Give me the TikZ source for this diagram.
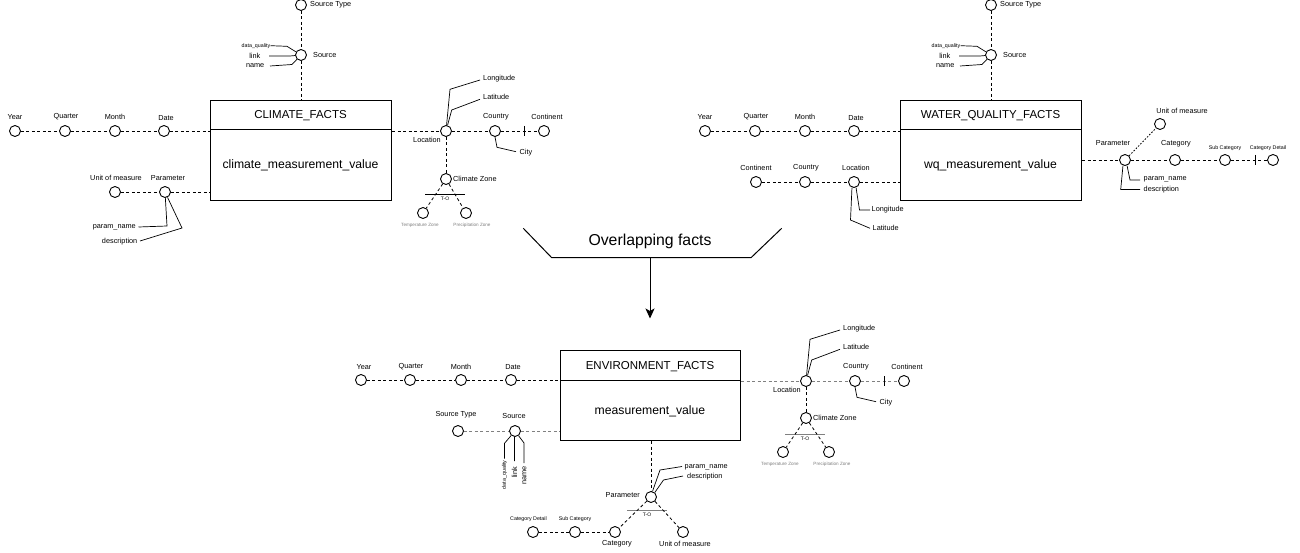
\documentclass[tikz,border=0pt]{standalone}
\usepackage{fontspec}
\setmainfont{Liberation Sans}
\usetikzlibrary{arrows.meta}
\newcommand\myfs[1]{\fontsize{#1}{#1}\selectfont}
\begin{document}
\begin{tikzpicture}[x=1pt,y=-1pt,
 ent/.style={circle,draw,line width=0.9pt,minimum size=11pt,inner sep=0pt,fill=white},
 lbl/.style={inner sep=0pt,font=\myfs{7.3}},
 tny/.style={inner sep=0pt,font=\myfs{5.3}},
 zn/.style={inner sep=0pt,font=\myfs{4.6},text=gray},
 dl/.style={line width=0.8pt,dash pattern=on 3pt off 2.5pt},
 gdl/.style={dl,draw=gray},
 dotl/.style={line width=0.8pt,dash pattern=on 1.6pt off 1.6pt},
 att/.style={line width=0.7pt},
 fact/.style={draw,line width=1pt,anchor=north west,minimum width=181pt,minimum height=100pt,inner sep=0pt},
 ttl/.style={inner sep=0pt,font=\myfs{11.5}},
 val/.style={inner sep=0pt,font=\myfs{12.2}},
 tob/.style={line width=0.9pt},
 tot/.style={inner sep=0pt,font=\myfs{5}}]
\useasboundingbox (0,0) rectangle (1300,553);
\fill[white] (0,0) rectangle (1300,553);

% ================= CLIMATE =================
\node[fact] (cf) at (210,100) {};
\draw[line width=1pt] (cf.west |- 0,130) -- (cf.east |- 0,130);
\node[ttl] (cft) at (300.5,115.5) {CLIMATE\_FACTS};
\node[val] (cfv) at (300.5,165) {climate\_measurement\_value};

\node[ent] (ay) at (15,131) {};   \node[lbl] (ayl) at (15,117) {Year};
\node[ent] (aq) at (65,131) {};   \node[lbl] (aql) at (66,117) {Quarter};
\node[ent] (am) at (115,131) {};  \node[lbl] (aml) at (115,117) {Month};
\node[ent] (ad) at (164,131) {};  \node[lbl] (adl) at (166,118) {Date};
\draw[dl] (ay) -- (aq); \draw[dl] (aq) -- (am); \draw[dl] (am) -- (ad);
\draw[dl] (ad) -- (ad -| cf.west);

\node[ent] (ast) at (301,5) {};  \node[lbl,anchor=west] (astl) at (310,5) {Source Type};
\node[ent] (as) at (301,55) {};  \node[lbl,anchor=west] (asl) at (313,55) {Source};
\draw[dl] (ast) -- (as); \draw[dl] (as) -- (as |- cf.north);
\node[tny,anchor=east] (adq) at (270.5,45.7) {data\_quality};
\node[lbl,anchor=east] (alk) at (260.5,55.7) {link};
\node[lbl,anchor=east] (anm) at (264.5,65.7) {name};
\draw[att] (adq.east) -- (287,46.3) -- (as);
\draw[att] (alk.east) ++(8.5,0.3) coordinate (alk0) (alk0) -- (290,56) -- (as);
\draw[att] (anm.east) ++(5.5,0.3) coordinate (anm0) (anm0) -- (292,64.5) -- (as);

\node[ent] (aum) at (115,192) {};  \node[lbl] (aumt) at (116,178) {Unit of measure};
\node[ent] (apr) at (165,192) {};  \node[lbl] (aprt) at (168,178) {Parameter};
\draw[dl] (aum) -- (apr); \draw[dl] (apr) -- (apr -| cf.west);
\node[lbl,anchor=east] (apn) at (136,227) {param\_name};
\node[lbl,anchor=east] (ads) at (137.5,242) {description};
\draw[att] (apn.east) ++(2.5,0) coordinate (apn0) (apn0) -- (167,226) -- (apr);
\draw[att] (ads.east) ++(2.5,-1) coordinate (ads0) (ads0) -- (182,228) -- (apr);

\node[ent] (alo) at (446,131) {};  \node[lbl] (alol) at (427,140) {Location};
\node[ent] (aco) at (495,131) {};  \node[lbl] (acol) at (496,117) {Country};
\node[ent] (act) at (544,131) {};  \node[lbl] (actl) at (547,117) {Continent};
\draw[dl] (alo -| cf.east) -- (alo); \draw[dl] (alo) -- (aco); \draw[dl] (aco) -- (act);
\coordinate (atk) at (524,131);
\draw[line width=0.9pt] (atk) ++(0,-5) -- ++(0,10);
\draw[att] (aco.south) -- (497,147.3) -- (516,151.7);
\node[lbl,anchor=west] (acity) at (519.5,152.7) {City};
\draw[att] (alo) -- (450,89.3) -- (480,80);
\node[lbl,anchor=west] (alng) at (483,78.3) {Longitude};
\draw[att] (alo) -- (451.7,110) -- (480,99.3);
\node[lbl,anchor=west] (alat) at (483,97.3) {Latitude};
\node[ent] (acz) at (446,179) {};  \node[lbl,anchor=west] (aczl) at (453,179) {Climate Zone};
\draw[dl] (alo) -- (acz);
\draw[tob] (425,194.3) -- (465,194.3);
\node[tot] (ato) at (445,198.6) {T-O};
\node[ent] (atz) at (423,213) {};  \node[zn] (atzl) at (420,225) {Temperature Zone};
\node[ent] (apz) at (466,213) {};  \node[zn] (apzl) at (472,225) {Precipitation Zone};
\draw[dl] (acz) -- (atz); \draw[dl] (acz) -- (apz);

% ================= WATER QUALITY =================
\node[fact] (wf) at (900,100) {};
\draw[line width=1pt] (wf.west |- 0,130) -- (wf.east |- 0,130);
\node[ttl] (wft) at (990.5,115.5) {WATER\_QUALITY\_FACTS};
\node[val] (wfv) at (990.5,165) {wq\_measurement\_value};

\node[ent] (by) at (705,131) {};   \node[lbl] (byl) at (705,117) {Year};
\node[ent] (bq) at (755,131) {};   \node[lbl] (bql) at (756,117) {Quarter};
\node[ent] (bm) at (805,131) {};   \node[lbl] (bml) at (805,117) {Month};
\node[ent] (bd) at (854,131) {};   \node[lbl] (bdl) at (856,118) {Date};
\draw[dl] (by) -- (bq); \draw[dl] (bq) -- (bm); \draw[dl] (bm) -- (bd);
\draw[dl] (bd) -- (bd -| wf.west);

\node[ent] (bst) at (991,5) {};  \node[lbl,anchor=west] (bstl) at (1000,5) {Source Type};
\node[ent] (bs) at (991,55) {};  \node[lbl,anchor=west] (bsl) at (1003,55) {Source};
\draw[dl] (bst) -- (bs); \draw[dl] (bs) -- (bs |- wf.north);
\node[tny,anchor=east] (bdq) at (960.5,45.7) {data\_quality};
\node[lbl,anchor=east] (blk) at (950.5,55.7) {link};
\node[lbl,anchor=east] (bnm) at (954.5,65.7) {name};
\draw[att] (bdq.east) -- (977,46.3) -- (bs);
\draw[att] (blk.east) ++(8.5,0.3) coordinate (blk0) (blk0) -- (980,56) -- (bs);
\draw[att] (bnm.east) ++(5.5,0.3) coordinate (bnm0) (bnm0) -- (982,64.5) -- (bs);

\node[ent] (bct) at (756,182) {};  \node[lbl] (bctl) at (756,168) {Continent};
\node[ent] (bco) at (805,182) {};  \node[lbl] (bcol) at (806,168) {Country};
\node[ent] (blo) at (854,182) {};  \node[lbl] (blol) at (856,168) {Location};
\draw[dl] (bct) -- (bco); \draw[dl] (bco) -- (blo); \draw[dl] (blo) -- (blo -| wf.west);
\draw[att] (blo.-70) -- (859.5,210) -- (870,210);
\node[lbl,anchor=west] (blng) at (871.5,210) {Longitude};
\draw[att] (blo.-110) -- (850.5,220) -- (870,228.3);
\node[lbl,anchor=west] (blat) at (872.5,228.3) {Latitude};

\node[ent] (bpr) at (1125,160) {};  \node[lbl] (bprl) at (1113,143.5) {Parameter};
\node[ent] (bum) at (1160,124) {};  \node[lbl] (buml) at (1182,111) {Unit of measure};
\node[ent] (bca) at (1175,160) {};  \node[lbl] (bcal) at (1176,143.5) {Category};
\node[ent] (bsc) at (1225,160) {};  \node[tny] (bscl) at (1225,148.3) {Sub Category};
\node[ent] (bcd) at (1273,160) {};  \node[tny] (bcdl) at (1268,148.3) {Category Detail};
\draw[dl] (bpr -| wf.east) -- (bpr);
\draw[dotl] (bpr) -- (bum);
\draw[dl] (bpr) -- (bca); \draw[dl] (bca) -- (bsc); \draw[dl] (bsc) -- (bcd);
\coordinate (btk) at (1255,160);
\draw[line width=0.9pt] (btk) ++(0,-5) -- ++(0,10);
\draw[att] (bpr.-70) -- (1130,180) -- (1140,180);
\node[lbl,anchor=west] (bpn) at (1143.5,179.5) {param\_name};
\draw[att] (bpr.-110) -- (1120.7,189.5) -- (1140,189.5);
\node[lbl,anchor=west] (bds) at (1143.5,189.5) {description};

% ================= OVERLAP =================
\coordinate (ov1) at (523.3,228.3);
\coordinate (ov2) at (551.7,257.7);
\coordinate (ov3) at (751,257.7);
\coordinate (ov4) at (781.7,228.3);
\draw[line width=1pt] (ov1) -- (ov2) -- (ov3) -- (ov4);
\node[inner sep=0pt,font=\myfs{15.8}] (ovt) at (650,241.7) {Overlapping facts};
\coordinate (ova) at (650,257.7);
\coordinate (ovb) at (650,318.5);
\draw[line width=1pt,-{Stealth[length=10pt,width=9pt,inset=2.5pt]}] (ova) -- (ovb);

% ================= ENVIRONMENT =================
\node[fact,minimum width=180pt,minimum height=90pt] (ef) at (560,350) {};
\draw[line width=1pt] (ef.west |- 0,380) -- (ef.east |- 0,380);
\node[ttl] (eft) at (650,366.5) {ENVIRONMENT\_FACTS};
\node[val] (efv) at (650,411) {measurement\_value};

\node[ent] (cy) at (361,380) {};   \node[lbl] (cyl) at (364,366.7) {Year};
\node[ent] (cq) at (410,380) {};   \node[lbl] (cql) at (411,366.7) {Quarter};
\node[ent] (cm) at (461,380) {};   \node[lbl] (cml) at (461,366.7) {Month};
\node[ent] (cd) at (511,380) {};   \node[lbl] (cdl) at (513,366.7) {Date};
\draw[dl] (cy) -- (cq); \draw[dl] (cq) -- (cm); \draw[dl] (cm) -- (cd);
\draw[dl] (cd) -- (cd -| ef.west);

\node[ent] (cst) at (458,431) {};  \node[lbl] (cstl) at (456,415) {Source Type};
\node[ent] (cs) at (515,431) {};   \node[lbl] (csl) at (514,416) {Source};
\draw[gdl] (cst) -- (cs); \draw[gdl] (cs) -- (cs -| ef.west);
\draw[att] (cs) -- (504.5,443.3) -- (504.5,458.5);
\node[tny,rotate=90,anchor=east] (cdq) at (504.5,460.3) {data\_quality};
\draw[att] (cs.-95) -- (514.5,461);
\node[lbl,rotate=90,anchor=east] (clk) at (514.5,466.5) {link};
\draw[att] (cs) -- (524,443) -- (524,463);
\node[lbl,rotate=90,anchor=east] (cnm) at (524.5,466.5) {name};

\node[ent] (cpr) at (651,497) {};  \node[lbl,anchor=east] (cprl) at (640,495) {Parameter};
\draw[dl] (cpr |- ef.south) -- (cpr);
\draw[att] (cpr.75) -- (660,470) -- (682,466.5);
\node[lbl,anchor=west] (cpn) at (684.5,467) {param\_name};
\draw[att] (cpr.50) -- (663.5,480) -- (683,476);
\node[lbl,anchor=west] (cds) at (687,476.5) {description};
\draw[tob,draw=gray] (627,510) -- (667,510);
\node[tot] (cto) at (647,515) {T-O};
\node[ent] (cca) at (615,532) {};  \node[lbl] (ccal) at (617,544) {Category};
\node[ent] (cum) at (683,532) {};  \node[lbl] (cuml) at (685,544) {Unit of measure};
\node[ent] (csc) at (575,532) {};  \node[tny] (cscl) at (575,519.5) {Sub Category};
\node[ent] (ccd) at (533,532) {};  \node[tny] (ccdl) at (528.5,519.5) {Category Detail};
\draw[dl] (cpr) -- (cca); \draw[dl] (cpr) -- (cum);
\draw[dl] (ccd) -- (csc); \draw[dl] (csc) -- (cca);

\node[ent] (clo) at (806,381) {};  \node[lbl] (clol) at (787,390) {Location};
\node[ent] (cco) at (855,381) {};  \node[lbl] (ccol) at (856,367) {Country};
\node[ent] (cct) at (904,381) {};  \node[lbl] (cctl) at (907,367) {Continent};
\draw[gdl] (clo -| ef.east) -- (clo); \draw[gdl] (clo) -- (cco); \draw[gdl] (cco) -- (cct);
\coordinate (ctk) at (884,381);
\draw[line width=0.9pt] (ctk) ++(0,-5) -- ++(0,10);
\draw[att] (cco.south) -- (857,397.3) -- (876,401.7);
\node[lbl,anchor=west] (ccity) at (879.5,402.7) {City};
\draw[att] (clo) -- (810,339.3) -- (840,330);
\node[lbl,anchor=west] (clng) at (843,328.3) {Longitude};
\draw[att] (clo) -- (811.7,360) -- (840,349.3);
\node[lbl,anchor=west] (clat) at (843,347.3) {Latitude};
\node[ent] (ccz) at (806,418) {};  \node[lbl,anchor=west] (cczl) at (813,418) {Climate Zone};
\draw[dl] (clo) -- (ccz);
\draw[tob,draw=gray] (785,434.3) -- (825,434.3);
\node[tot] (cto2) at (805,438.6) {T-O};
\node[ent] (ctz) at (783,452) {};  \node[zn] (ctzl) at (780,464) {Temperature Zone};
\node[ent] (cpz) at (829,452) {};  \node[zn] (cpzl) at (832,464) {Precipitation Zone};
\draw[dl] (ccz) -- (ctz); \draw[dl] (ccz) -- (cpz);
\end{tikzpicture}
\end{document}
